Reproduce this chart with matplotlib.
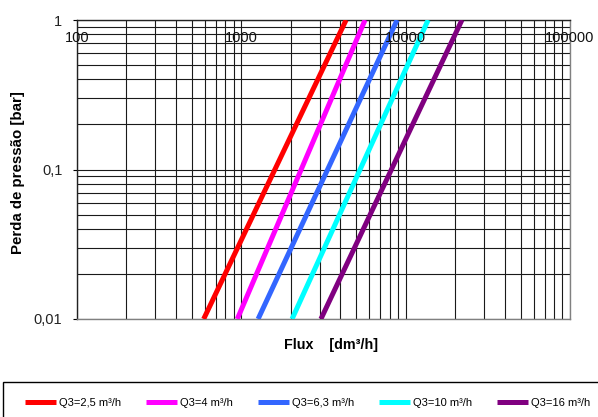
import matplotlib
matplotlib.use('Agg')
import matplotlib.pyplot as plt
from matplotlib.patches import Rectangle
from matplotlib.ticker import LogLocator, NullFormatter, FixedLocator

plt.rcParams['font.family'] = ['Liberation Sans', 'DejaVu Sans']

# dados (recta em log-log: ponto a 0,01 bar e ponto a 1 bar)
series = ['Q3=2,5 m³/h', 'Q3=4 m³/h', 'Q3=6,3 m³/h', 'Q3=10 m³/h', 'Q3=16 m³/h']
cores = ['#ff0000', '#ff00ff', '#3366ff', '#00ffff', '#800080']
fluxo_baixo = [590, 945, 1265, 2035, 3050]       # dm³/h a 0,01 bar
fluxo_cima = [4340, 5660, 8870, 13700, 22000]    # dm³/h a 1 bar
perda = [0.01, 1]

x_ticks = [100, 1000, 10000, 100000]
x_labels = ['100', '1000', '10000', '100000']
y_ticks = [0.01, 0.1, 1]
y_labels = ['0,01', '0,1', '1']

fig = plt.figure(figsize=(5.98, 4.17), dpi=100)
ax = fig.add_axes([77/598, 1 - 319/417, 493/598, 299/417])

for nome, cor, a, b in zip(series, cores, fluxo_baixo, fluxo_cima):
    ax.plot([a, b], perda, color=cor, linewidth=3.6, solid_capstyle='butt', label=nome, zorder=3)

ax.set_xscale('log')
ax.set_yscale('log')
ax.set_xlim(100, 100000)
ax.set_ylim(0.01, 1)

ax.xaxis.set_major_locator(FixedLocator(x_ticks))
ax.xaxis.set_major_formatter(NullFormatter())
ax.xaxis.set_minor_locator(LogLocator(base=10, subs=range(2, 10)))
ax.xaxis.set_minor_formatter(NullFormatter())
ax.yaxis.set_major_locator(FixedLocator(y_ticks))
ax.set_yticklabels(y_labels)
ax.yaxis.set_minor_locator(LogLocator(base=10, subs=range(2, 10)))
ax.yaxis.set_minor_formatter(NullFormatter())

ax.grid(True, which='both', color='#1a1a1a', linewidth=0.8)
ax.set_axisbelow(True)

ax.tick_params(axis='x', which='both', bottom=False, top=False, length=0)
ax.tick_params(axis='y', which='major', length=3, width=0.8, pad=7.5, labelsize=10.5,
               labelcolor='#222222')
ax.tick_params(axis='y', which='minor', length=0)

# labels do eixo x no topo, dentro do gráfico, por cima das linhas
for xv, txt in zip(x_ticks, x_labels):
    ax.text(xv, 1 - 18.5/299, txt, transform=ax.get_xaxis_transform(),
            ha='center', va='center', fontsize=10.5, color='#111111', zorder=5,
            clip_on=False)

for s in ['top', 'left']:
    ax.spines[s].set_color('#222222')
for s in ['bottom', 'right']:
    ax.spines[s].set_color('#808080')
for s in ax.spines.values():
    s.set_linewidth(1.0)

fig.text(331/598, 1 - 345/417, 'Flux    [dm³/h]', ha='center', va='center',
         fontsize=10.3, fontweight='bold')
fig.text(18/598, 1 - 173/417, 'Perda de pressão [bar]', ha='center', va='center',
         rotation=90, fontsize=10.8, fontweight='bold')

# caixa da legenda
fig.patches.append(Rectangle((3/598, -0.05), 0.999, 1 - 382/417 + 0.05,
                             transform=fig.transFigure, fill=False,
                             edgecolor='black', linewidth=1.0))
fig.legend(loc='center left', bbox_to_anchor=(25/598, 1 - 403/417), ncol=5,
           frameon=False, fontsize=8, handlelength=2.8, handletextpad=0.3,
           columnspacing=2.2, borderpad=0, borderaxespad=0)

fig.savefig('out.png', dpi=100)
